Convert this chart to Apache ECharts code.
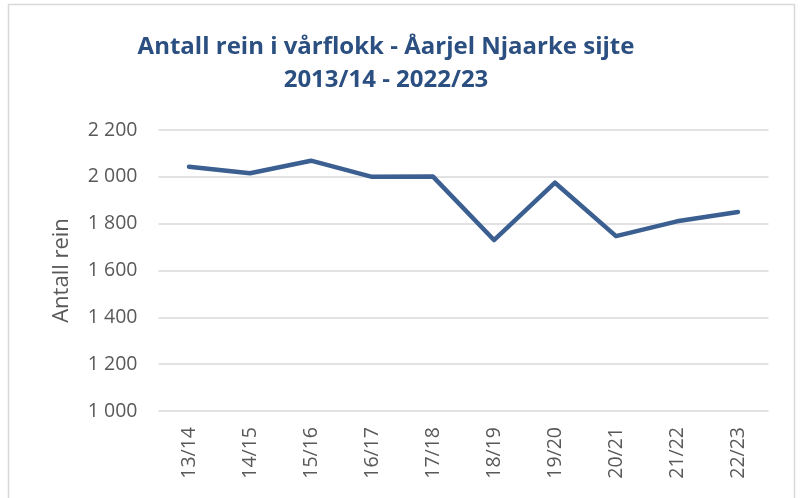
<!DOCTYPE html>
<html><head><meta charset="utf-8">
<script src="https://cdn.jsdelivr.net/npm/echarts@6/dist/echarts.min.js"></script>
<style>html,body{margin:0;padding:0;background:#fff}#c{width:800px;height:498px}</style>
</head><body><div id="c"></div>
<script>
const categories = ['13/14','14/15','15/16','16/17','17/18','18/19','19/20','20/21','21/22','22/23'];
const values = [2043, 2015, 2069, 2000, 2001, 1730, 1975, 1747, 1810, 1850];
const titleLines = ['Antall rein i vårflokk - Åarjel Njaarke sijte', '2013/14 - 2022/23'];
const yName = 'Antall rein';

const chart = echarts.init(document.getElementById('c'));
chart.setOption({
  animation: false,
  graphic: [{type:'rect', shape:{x:8.5,y:4.5,width:786,height:520}, style:{fill:'none', stroke:'#d9d9d9', lineWidth:1.5}, silent:true}],
  title: {
    text: titleLines.join('\n'), left: 381, textAlign: 'center', top: 26,
    textStyle: {fontFamily:'Open Sans', fontWeight:'bold', fontSize:24, color:'#2B4F80', lineHeight:33}
  },
  grid: {left: 158.5, right: 31.5, top: 130, bottom: 87, containLabel:false},
  xAxis: {
    type:'category', data: categories, boundaryGap:true,
    axisLine:{show:false}, axisTick:{show:false},
    axisLabel:{rotate:90, color:'#595959', fontFamily:'Open Sans', fontSize:19.5, margin:16}
  },
  yAxis: {
    type:'value', min:1000, max:2200, interval:200,
    name: yName, nameLocation:'middle', nameGap:86, nameRotate:90,
    nameTextStyle:{color:'#595959', fontFamily:'Open Sans', fontSize:22},
    axisLine:{show:false}, axisTick:{show:false},
    axisLabel:{color:'#595959', fontFamily:'Open Sans', fontSize:19.5, margin:21,
      formatter: v => String(v).replace(/\B(?=(\d{3})+(?!\d))/g, ' ')},
    splitLine:{lineStyle:{color:'#d9d9d9', width:1.5}}
  },
  series: [{type:'line', data: values, symbol:'none', lineStyle:{color:'#3A5F90', width:4.5, cap:'round', join:'round'}}]
});
</script></body></html>
